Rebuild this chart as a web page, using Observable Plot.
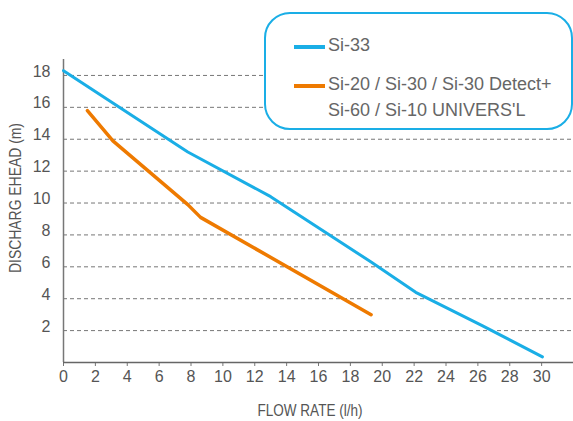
<!DOCTYPE html>
<html>
<head>
<meta charset="utf-8">
<script src="https://cdn.jsdelivr.net/npm/d3@7"></script>
<script src="https://cdn.jsdelivr.net/npm/@observablehq/plot@0.6"></script>
<style>
  html, body { margin: 0; padding: 0; background: #fff; }
  #wrap { position: relative; width: 573px; height: 421px; overflow: hidden; }
  #legend {
    position: absolute; left: 264px; top: 12px; width: 305px; height: 114px;
    border: 2px solid #1aaee6; border-radius: 26px; background: #fff;
    font-family: "Liberation Sans", Arial, sans-serif; font-size: 18px; color: #666;
    box-sizing: content-box;
  }
  .item { position: absolute; left: 28px; display: flex; align-items: flex-start; }
  .sw { width: 31px; height: 4px; margin-right: 3px; margin-top: 11px; }
  .lbl { line-height: 26px; margin-top: -2px; }
</style>
</head>
<body>
<div id="wrap"></div>
<script>
const seriesNames = ["Si-33", "Si-20 / Si-30 / Si-30 Detect+\nSi-60 / Si-10 UNIVERS'L"];
const colors = ["#1aaee6", "#ee7a00"];

const si33Flow = [0, 7.8, 13.0, 19.3, 22.1, 26.3, 30.05];
const si33Head = [18.3, 13.2, 10.4, 6.3, 4.4, 2.3, 0.35];

const si20Flow = [1.5, 3.1, 7.8, 8.6, 19.3];
const si20Head = [15.8, 13.9, 9.9, 9.1, 3.0];

const xTicks = [0, 2, 4, 6, 8, 10, 12, 14, 16, 18, 20, 22, 24, 26, 28, 30, 32];
const yTicks = [2, 4, 6, 8, 10, 12, 14, 16, 18];
const xTitle = "FLOW RATE (l/h)";
const yTitle = "DISCHARG EHEAD (m)";

const si33 = si33Flow.map((f, i) => ({flow: f, head: si33Head[i]}));
const si20 = si20Flow.map((f, i) => ({flow: f, head: si20Head[i]}));

const chart = Plot.plot({
  width: 573,
  height: 421,
  marginLeft: 63,
  marginRight: 0,
  marginTop: 59,
  marginBottom: 59,
  style: {fontFamily: "'Liberation Sans', Arial, sans-serif", color: "#555", background: "#fff"},
  x: {domain: [0, 32]},
  y: {domain: [0, 19]},
  marks: [
    Plot.gridY(yTicks, {stroke: "#777", strokeOpacity: 1, strokeDasharray: "4,3", strokeWidth: 1}),
    Plot.axisY(yTicks, {tickSize: 0, tickPadding: 13, fontSize: 16, dy: -4, fill: "#555", label: null}),
    Plot.axisX(xTicks, {tickSize: 4, tickPadding: 4, fontSize: 16, stroke: "#777", fill: "#555",
      tickFormat: d => d === 32 ? "" : d, label: null}),
    Plot.ruleX([0], {y1: 0, y2: 19, stroke: "#777", strokeWidth: 1.5}),
    Plot.ruleY([0], {stroke: "#666", strokeWidth: 1.5}),
    Plot.line(si20, {x: "flow", y: "head", stroke: colors[1], strokeWidth: 3.5}),
    Plot.line(si33, {x: "flow", y: "head", stroke: colors[0], strokeWidth: 3})
  ]
});

// axis titles (condensed look via textLength)
const svg = d3.select(chart);
svg.append("text")
  .attr("x", 310).attr("y", 416)
  .attr("text-anchor", "middle")
  .attr("font-size", 16)
  .attr("fill", "#555")
  .attr("textLength", 105)
  .attr("lengthAdjust", "spacingAndGlyphs")
  .text(xTitle);
svg.append("text")
  .attr("transform", "translate(21,198) rotate(-90)")
  .attr("text-anchor", "middle")
  .attr("font-size", 16)
  .attr("fill", "#555")
  .attr("textLength", 150)
  .attr("lengthAdjust", "spacingAndGlyphs")
  .text(yTitle);

const wrap = document.getElementById("wrap");
wrap.appendChild(chart);

const legend = document.createElement("div");
legend.id = "legend";
const tops = [20, 59];
seriesNames.forEach((name, i) => {
  const item = document.createElement("div");
  item.className = "item";
  item.style.top = tops[i] + "px";
  const sw = document.createElement("div");
  sw.className = "sw";
  sw.style.background = colors[i];
  const lbl = document.createElement("div");
  lbl.className = "lbl";
  lbl.innerHTML = name.split("\n").join("<br>");
  item.appendChild(sw);
  item.appendChild(lbl);
  legend.appendChild(item);
});
wrap.appendChild(legend);
</script>
</body>
</html>
